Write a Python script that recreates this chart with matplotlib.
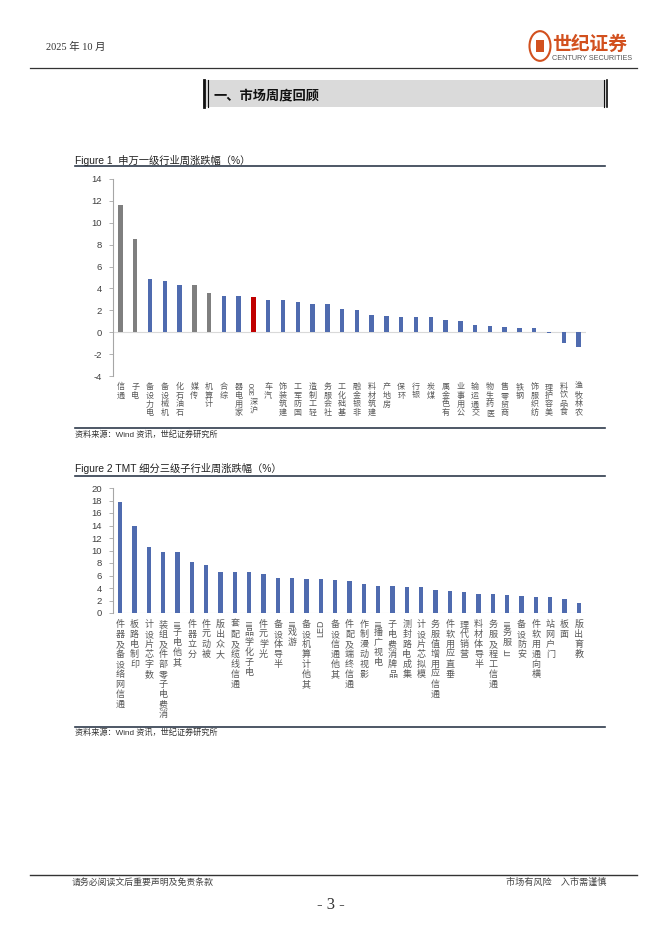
import re

import matplotlib
matplotlib.use("Agg")
import matplotlib.pyplot as plt
from matplotlib.font_manager import FontProperties
from matplotlib.lines import Line2D
from matplotlib.patches import Circle, Rectangle
from matplotlib.textpath import TextPath

CJK = "Noto Sans CJK SC"
LATIN = "Liberation Sans"
plt.rcParams["font.family"] = [LATIN, CJK, "DejaVu Sans"]
plt.rcParams["axes.unicode_minus"] = False

# Figure 1: 申万一级行业周涨跌幅 (%)
f1_names = ["通信", "电子", "电力设备", "机械设备", "石油石化", "传媒", "计算机", "综合",
            "家用电器", "沪深300", "汽车", "建筑装饰", "国防军工", "轻工制造", "社会服务",
            "基础化工", "非银金融", "建筑材料", "房地产", "环保", "银行", "煤炭", "有色金属",
            "公用事业", "交通运输", "医药生物", "商贸零售", "钢铁", "纺织服饰", "美容护理",
            "食品饮料", "农林牧渔"]
f1_vals = [11.6, 8.5, 4.9, 4.7, 4.3, 4.3, 3.6, 3.3, 3.3, 3.2, 2.9, 2.9, 2.8, 2.6, 2.55,
           2.1, 2.0, 1.6, 1.5, 1.43, 1.4, 1.37, 1.13, 1.07, 0.7, 0.55, 0.46, 0.43, 0.37,
           -0.06, -0.98, -1.37]
f1_tmt = ["通信", "电子", "传媒", "计算机"]
f1_bench = "沪深300"
f1_ticks = [-4, -2, 0, 2, 4, 6, 8, 10, 12, 14]

# Figure 2: TMT 细分三级子行业周涨跌幅 (%)
f2_names = ["通信网络设备及器件", "印制电路板", "数字芯片设计", "消费电子零部件及组装",
            "其他电子III", "分立器件", "被动元件", "大众出版", "通信线缆及配套", "电子化学品III",
            "光学元件", "半导体设备", "游戏III", "其他计算机设备", "LED", "其他通信设备",
            "通信终端及配件", "影视动漫制作", "电视广播III", "品牌消费电子", "集成电路封测",
            "模拟芯片设计", "通信应用增值服务", "垂直应用软件", "营销代理", "半导体材料",
            "通信工程及服务", "IT服务III", "安防设备", "横向通用软件", "门户网站", "面板",
            "教育出版"]
f2_vals = [17.8, 14.0, 10.5, 9.8, 9.7, 8.1, 7.7, 6.6, 6.6, 6.5, 6.3, 5.6, 5.6, 5.5, 5.4,
           5.3, 5.1, 4.6, 4.4, 4.4, 4.2, 4.1, 3.7, 3.6, 3.3, 3.1, 3.1, 2.9, 2.8, 2.6, 2.6,
           2.3, 1.6]
f2_ticks = list(range(0, 21, 2))

BLUE = "#4F6BAF"
GRAY = "#7F7F7F"
RED = "#C00000"
NAVY = "#2F3B4B"
TXT = "#595959"
LOGO = "#D2501E"

W, H = 662, 936


def fx(px):
    return px / W


def fy(py):
    return 1 - py / H


def hline(fig, y, x0, x1, color=NAVY, lw=1.2):
    fig.add_artist(Line2D([fx(x0), fx(x1)], [fy(y), fy(y)], color=color, lw=lw))


def stacked_label(ax, x, text, top, step, size):
    # Excel style: characters upright, read bottom to top, latin runs rotated
    runs = re.findall(r"[A-Za-z0-9]+|.", text)
    off = top
    for run in reversed(runs):
        if run.isascii():
            w = TextPath((0, 0), run, size=size,
                         prop=FontProperties(family=LATIN)).get_extents().width
            ax.annotate(run, (x, 0), xycoords=ax.get_xaxis_transform(),
                        xytext=(0, -off), textcoords="offset points",
                        ha="center", va="top", rotation=90, fontsize=size,
                        family=LATIN, color=TXT)
            off += w + 1.5
        else:
            ax.annotate(run, (x, 0), xycoords=ax.get_xaxis_transform(),
                        xytext=(0, -off), textcoords="offset points",
                        ha="center", va="top", fontsize=size, family=CJK, color=TXT)
            off += step


def bar_panel(ax, names, vals, colors, ticks, lab_top, lab_step, lab_size):
    x = list(range(len(names)))
    ax.bar(x, vals, width=0.3, color=colors, zorder=2)
    ax.axhline(0, color="#D9D9D9", lw=0.8, zorder=1)
    ax.set_xlim(-0.5, len(names) - 0.5)
    ax.set_ylim(ticks[0], ticks[-1])
    ax.set_yticks(ticks)
    ax.set_xticks([])
    for s in ["top", "right", "bottom"]:
        ax.spines[s].set_visible(False)
    ax.spines["left"].set_color("#A6A6A6")
    ax.spines["left"].set_linewidth(0.8)
    ax.tick_params(axis="y", length=3, width=0.6, color="#A6A6A6", pad=5,
                   labelsize=6.8, labelcolor="#404040")
    for i, name in enumerate(names):
        stacked_label(ax, i, name, lab_top, lab_step, lab_size)


fig = plt.figure(figsize=(W / 100, H / 100), dpi=100)

# page header
fig.text(fx(46), fy(47), "2025 年 10 月", fontsize=7.5, va="center",
         family=["Liberation Serif", CJK], color="#333333")
fig.add_artist(Circle((fx(540), fy(46)), 10.5 / W, transform=fig.transFigure,
                      fill=False, ec=LOGO, lw=1.5))
fig.add_artist(Rectangle((fx(536), fy(52)), 8 / W, 12 / H, transform=fig.transFigure,
                         fc=LOGO, ec="none"))
fig.text(fx(552), fy(44), "世纪证券", fontsize=13.5, fontweight="bold", family=CJK,
         color=LOGO, va="center")
fig.text(fx(552), fy(58), "CENTURY SECURITIES", fontsize=5.2, family=LATIN,
         color="#555555", va="center")
hline(fig, 68, 30, 637, color="#333333", lw=0.9)

# section banner
fig.add_artist(Rectangle((fx(203), fy(107)), fx(608) - fx(203), 27 / H,
                         transform=fig.transFigure, fc="#DADADA", ec="none"))
for xx, lw in [(204, 2.0), (207.5, 0.8), (604, 0.8), (607, 1.2)]:
    fig.add_artist(Line2D([fx(xx), fx(xx)], [fy(80), fy(107)], color="#111111", lw=lw))
fig.text(fx(214), fy(96), "一、市场周度回顾", fontsize=9.5, fontweight="bold",
         family=CJK, va="center", color="#111111")

# Figure 1
fig.text(fx(75), fy(160), "Figure 1  申万一级行业周涨跌幅（%）", fontsize=7.4,
         va="center", color="#222222")
hline(fig, 166, 75, 605)
ax1 = fig.add_axes([fx(113), fy(376), fx(586) - fx(113), fy(179) - fy(376)])
c1 = [RED if n == f1_bench else GRAY if n in f1_tmt else BLUE for n in f1_names]
bar_panel(ax1, f1_names, f1_vals, c1, f1_ticks, 4.3, 6.3, 5.8)
hline(fig, 428, 75, 605)
fig.text(fx(75), fy(435), "资料来源：Wind 资讯，世纪证券研究所", fontsize=5.9,
         va="center", color="#333333")

# Figure 2
fig.text(fx(75), fy(468), "Figure 2 TMT 细分三级子行业周涨跌幅（%）", fontsize=7.4,
         va="center", color="#222222")
hline(fig, 476, 75, 605)
ax2 = fig.add_axes([fx(113), fy(613), fx(586) - fx(113), fy(488) - fy(613)])
bar_panel(ax2, f2_names, f2_vals, BLUE, f2_ticks, 5.0, 7.2, 6.5)
hline(fig, 727, 75, 605)
fig.text(fx(75), fy(733), "资料来源：Wind 资讯，世纪证券研究所", fontsize=5.9,
         va="center", color="#333333")

# page footer
hline(fig, 875, 30, 637, color="#333333", lw=1.0)
fig.text(fx(72), fy(882), "请务必阅读文后重要声明及免责条款", fontsize=6.4, family=CJK,
         va="center", color="#444444")
fig.text(fx(606), fy(882), "市场有风险　入市需谨慎", fontsize=6.6, family=CJK,
         va="center", ha="right", color="#444444")
fig.text(fx(331), fy(905), "- 3 -", fontsize=12, family="Liberation Serif",
         va="center", ha="center", color="#333333")

fig.savefig("out.png", dpi=100)
